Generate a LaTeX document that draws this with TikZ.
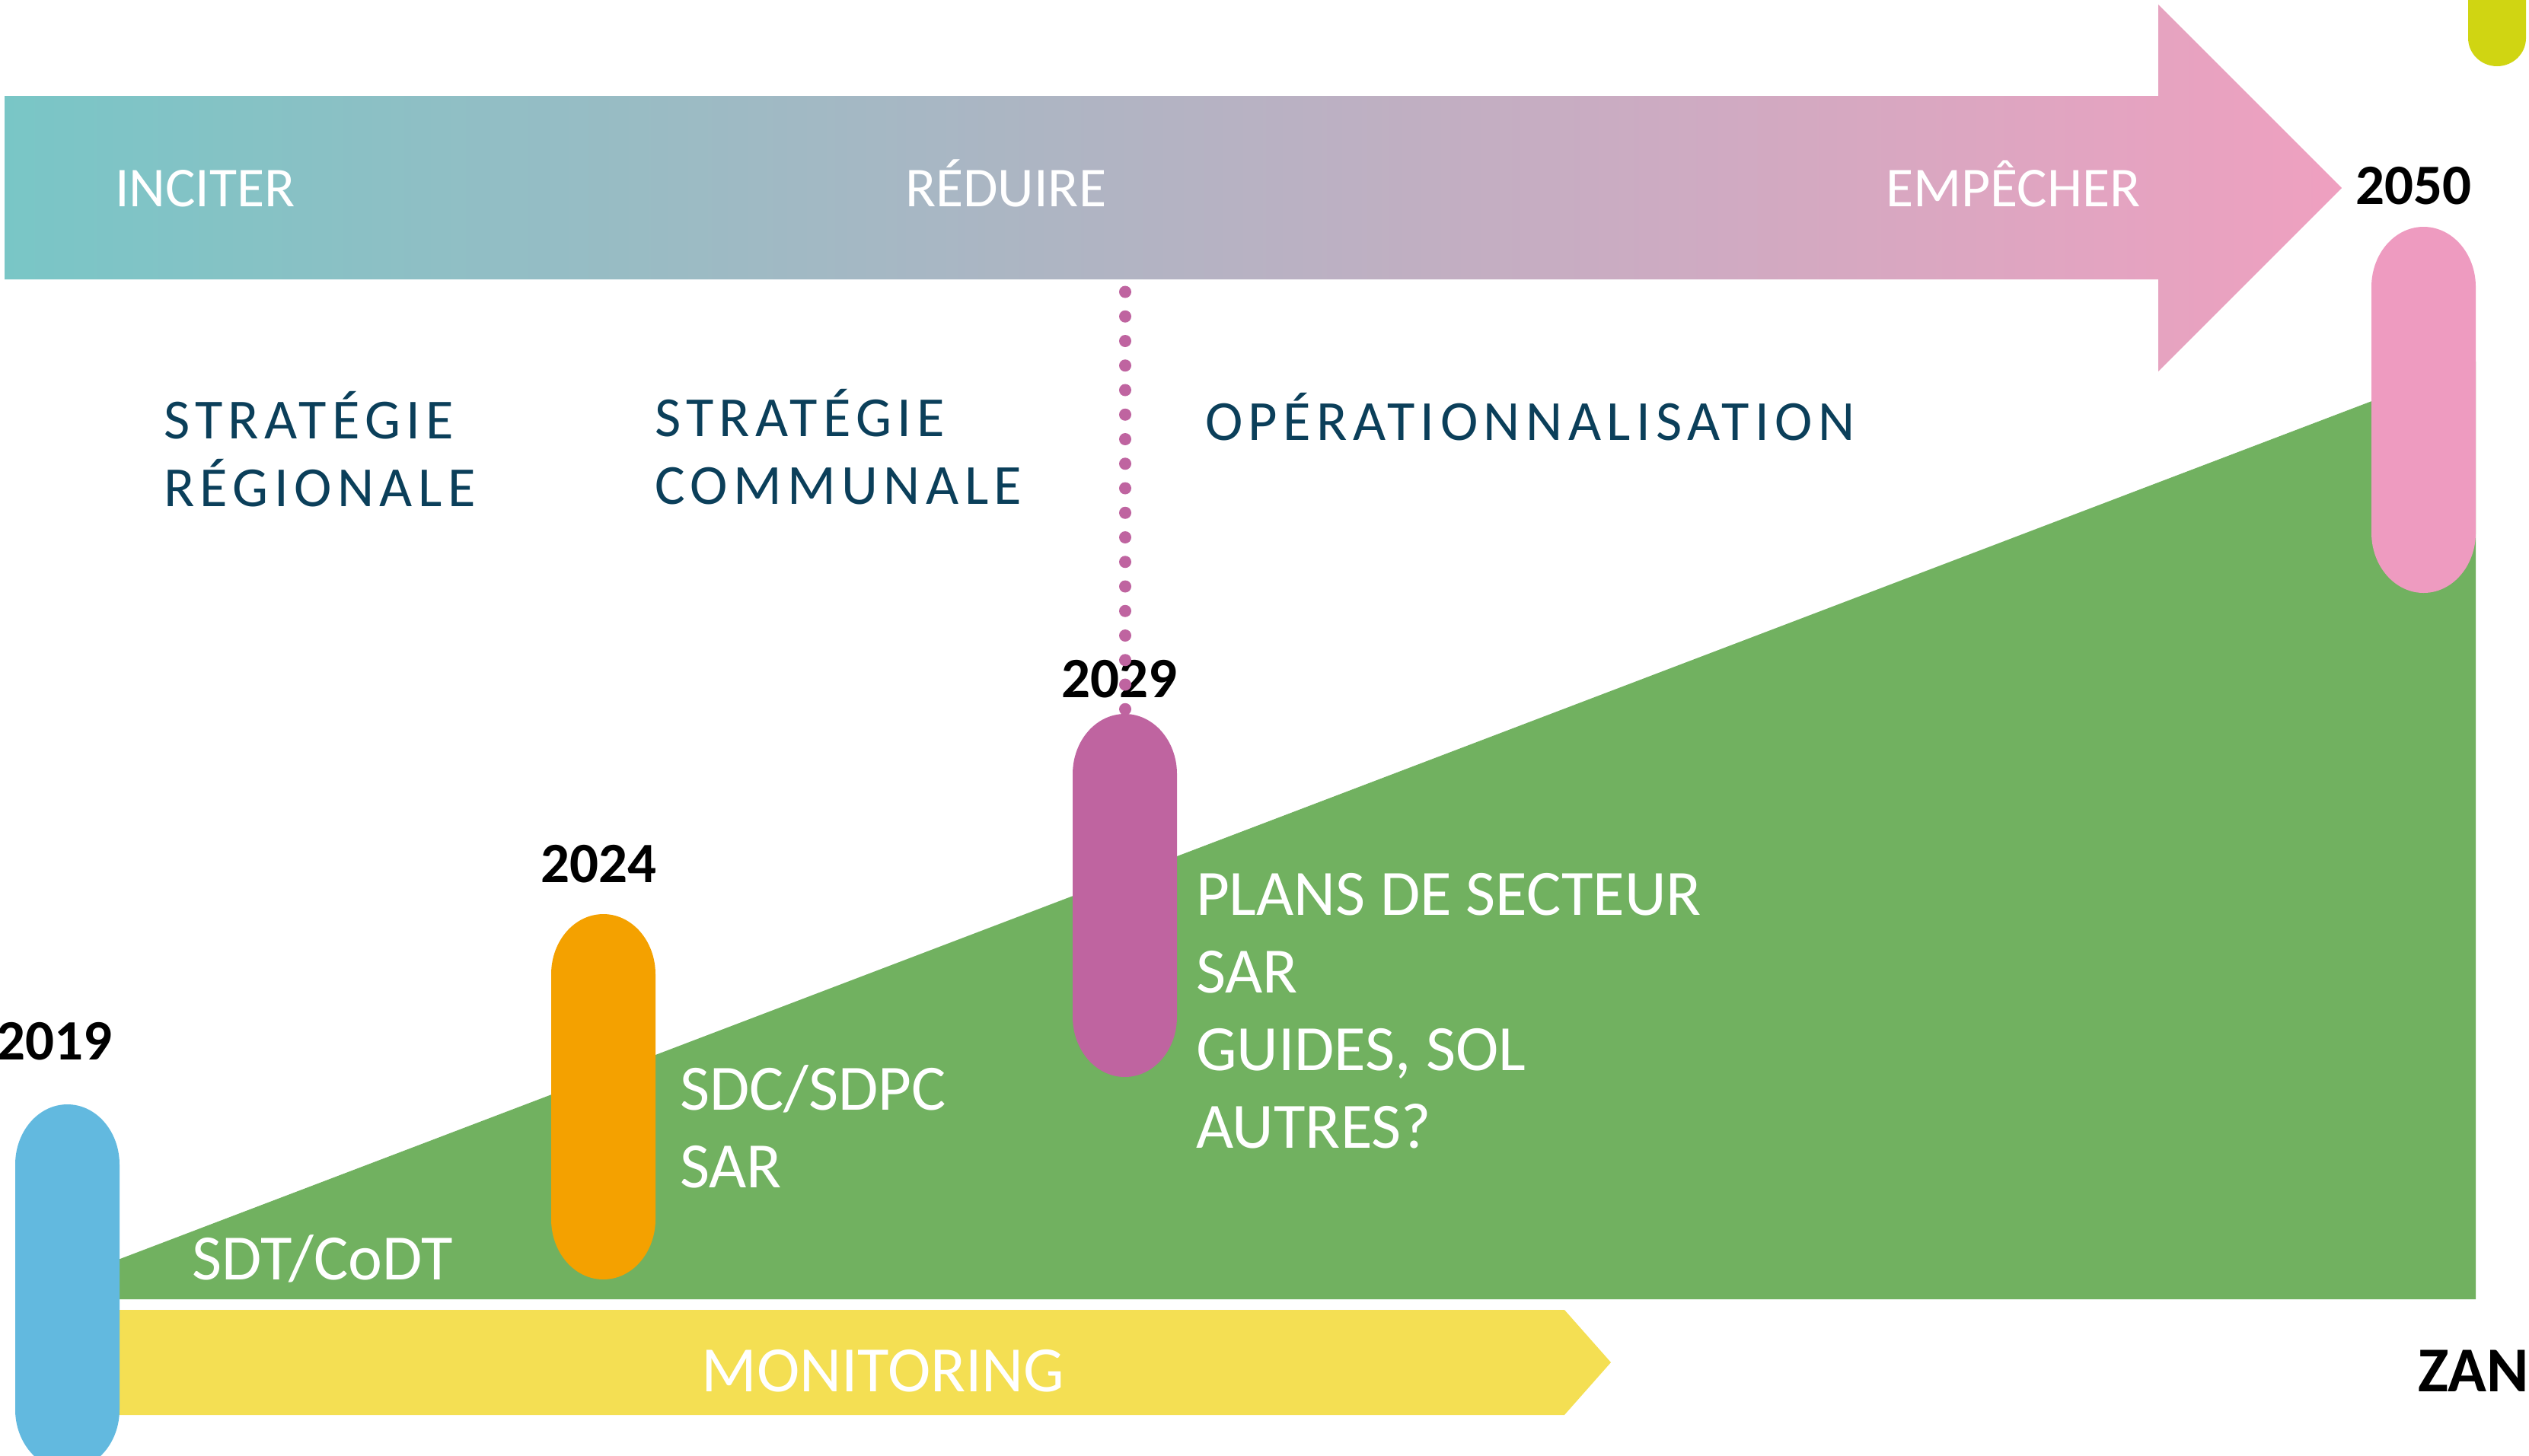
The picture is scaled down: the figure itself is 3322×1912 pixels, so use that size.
\documentclass[tikz,border=0pt]{standalone}
\usepackage{fontspec}
\setmainfont{Carlito}
\newfontfamily\spacedfont[LetterSpace=10]{Carlito}
\definecolor{tealc}{HTML}{79C6C6}
\definecolor{pinka}{HTML}{EFA0C0}
\definecolor{greenc}{HTML}{71B160}
\definecolor{yellowc}{HTML}{F4DF53}
\definecolor{bluec}{HTML}{62B9DF}
\definecolor{orangec}{HTML}{F4A100}
\definecolor{purplec}{HTML}{BF64A0}
\definecolor{pinkpill}{HTML}{EE9BC0}
\definecolor{limec}{HTML}{D0D512}
\definecolor{darkc}{HTML}{0B3F5A}
\newcommand{\tlpill}[7]{%
 \pgfmathsetmacro{\pcx}{(#3+#4)/2}%
 \pgfmathsetmacro{\pkx}{0.5523*(#4-#3)/2}%
 \pgfmathsetmacro{\pky}{0.5523*#7}%
 \pgfmathsetmacro{\pta}{#5+#7}%
 \pgfmathsetmacro{\ptb}{#5+#7-\pky}%
 \pgfmathsetmacro{\pba}{#6-#7}%
 \pgfmathsetmacro{\pbb}{#6-#7+\pky}%
 \fill[#2] (#3,\pta) .. controls (#3,\ptb) and ({\pcx-\pkx},#5) .. (\pcx,#5)
   .. controls ({\pcx+\pkx},#5) and (#4,\ptb) .. (#4,\pta) -- (#4,\pba)
   .. controls (#4,\pbb) and ({\pcx+\pkx},#6) .. (\pcx,#6)
   .. controls ({\pcx-\pkx},#6) and (#3,\pbb) .. (#3,\pba) -- cycle;
 \coordinate (#1) at (\pcx,#5);
}
\tikzset{
 lbl/.style={inner sep=0pt, outer sep=0pt, anchor=base west},
 whitebig/.style={lbl, text=white, font=\fontsize{85}{100}\selectfont},
 arrowlbl/.style={lbl, text=white, font=\fontsize{74}{88}\selectfont},
 phase/.style={lbl, text=darkc, font=\spacedfont\fontsize{74.5}{89}\selectfont},
 year/.style={lbl, text=black, font=\bfseries\fontsize{75}{90}\selectfont},
 dotline/.style={purplec, line width=16pt, line cap=round, dash pattern=on 0pt off 32.25pt}
}
\begin{document}
\begin{tikzpicture}[x=1pt,y=-1pt]
\useasboundingbox (0,0) rectangle (3322,1912);
% top gradient arrow
\shade[left color=tealc, right color=pinka] (6,126) -- (2835,126) -- (2835,6) -- (3076,247) -- (2835,488) -- (2835,367) -- (6,367) -- cycle;
% green wedge
\fill[greenc] (100,1676) -- (3252,475) -- (3252,1707) -- (100,1707) -- cycle;
% monitoring arrow
\fill[yellowc] (60,1721) -- (2055,1721) -- (2116,1790) -- (2055,1859) -- (60,1859) -- cycle;
% pills
\tlpill{p2019}{bluec}{20}{157}{1451}{1931}{79}
\tlpill{p2024}{orangec}{724}{861}{1201}{1681}{79}
\tlpill{p2029}{purplec}{1409}{1546}{938}{1415}{79}
\tlpill{p2050}{pinkpill}{3115}{3252}{298}{779}{79}
\tlpill{plime}{limec}{3242}{3318}{-60}{87}{37}
% arrow labels
\node[arrowlbl] (inciter) at (151,271) {INCITER};
\node[arrowlbl] (reduire) at (1189,271) {RÉDUIRE};
\node[arrowlbl] (empecher) at (2477,271) {EMPÊCHER};
% phases
\node[phase] (sr1) at (215,576) {STRATÉGIE};
\node[phase] (sr2) at (215,665) {RÉGIONALE};
\node[phase] (sc1) at (860,573) {STRATÉGIE};
\node[phase] (sc2) at (860,662) {COMMUNALE};
\node[phase] (op) at (1583,578) {OPÉRATIONNALISATION};
% years
\node[year] (y2019) at (-5,1392) {2019};
\node[year] (y2024) at (710,1159) {2024};
\node[year] (y2029) at (1394,916) {2029};
\node[year] (y2050) at (3094,268) {2050};
\node[year, anchor=base east, font=\bfseries\fontsize{84}{100}\selectfont] (zan) at (3322,1828) {ZAN};
% white texts
\node[whitebig] (sdt) at (252,1681) {SDT/CoDT};
\node[whitebig] (sdc) at (893,1458) {SDC/SDPC};
\node[whitebig] (sar1) at (893,1560) {SAR};
\node[whitebig] (plans) at (1571,1202) {PLANS DE SECTEUR};
\node[whitebig] (sar2) at (1571,1304) {SAR};
\node[whitebig] (guides) at (1571,1406) {GUIDES, SOL};
\node[whitebig] (autres) at (1571,1508) {AUTRES?};
\node[whitebig, anchor=base] (monit) at (1160,1828) {MONITORING};
% dotted connector
\coordinate (dtop) at (1478,383.5);
\coordinate (dbot) at (1478,932);
\draw[dotline] (dtop) -- (dbot);
\end{tikzpicture}
\end{document}
